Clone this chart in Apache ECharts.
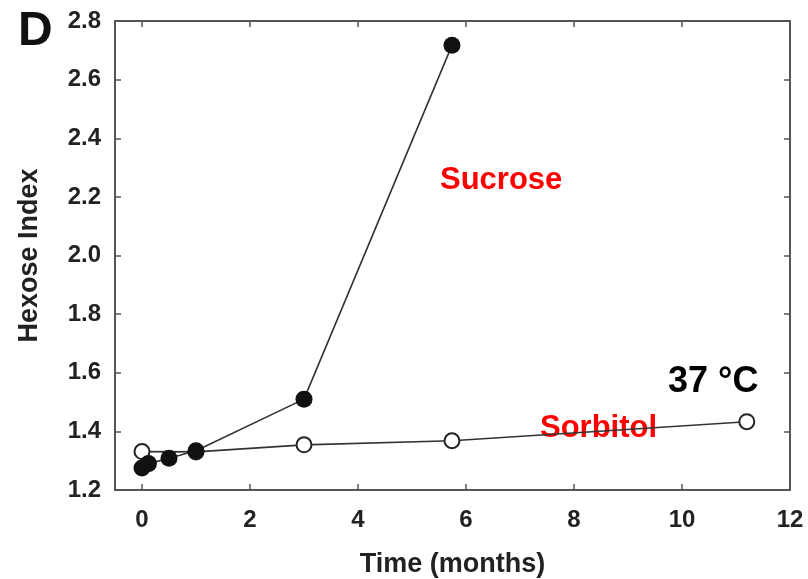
<!DOCTYPE html>
<html>
<head>
<meta charset="utf-8">
<script src="https://cdn.jsdelivr.net/npm/echarts@6/dist/echarts.min.js"></script>
<style>
  html, body { margin: 0; padding: 0; background: #fff; }
  #chart { width: 808px; height: 579px; }
</style>
</head>
<body>
<div id="chart"></div>
<script>
// months and hexose index
var sucroseX = [0, 0.12, 0.5, 1, 3, 5.74];
var sucroseY = [1.275, 1.29, 1.308, 1.334, 1.51, 2.717];
var sorbitolX = [0, 1, 3, 5.74, 11.2];
var sorbitolY = [1.331, 1.33, 1.354, 1.368, 1.433];
var monthTicks = [0, 2, 4, 6, 8, 10, 12];

var font = 'Liberation Sans, Arial, sans-serif';

function pairs(xs, ys) {
  return xs.map(function (x, i) { return [x, ys[i]]; });
}

var axisLine = { onZero: false, lineStyle: { color: '#555', width: 2 } };
var tick = { inside: true, length: 6, lineStyle: { color: '#555', width: 1.5 } };
var xTick = { inside: true, length: 6, customValues: monthTicks, lineStyle: { color: '#555', width: 1.5 } };

var chart = echarts.init(document.getElementById('chart'));
chart.setOption({
  animation: false,
  grid: { left: 115, right: 18, top: 21, bottom: 89, outerBoundsMode: 'none' },
  xAxis: [
    {
      type: 'value', min: -0.5, max: 12,
      axisLine: axisLine, axisTick: xTick, splitLine: { show: false },
      axisLabel: {
        margin: 18, fontSize: 24, fontWeight: 'bold', color: '#222', fontFamily: font,
        customValues: monthTicks
      },
      name: 'Time (months)', nameLocation: 'middle', nameGap: 61,
      nameTextStyle: { fontSize: 27, fontWeight: 'bold', color: '#222', fontFamily: font }
    },
    {
      type: 'value', position: 'top', min: -0.5, max: 12,
      axisLine: axisLine, axisTick: xTick, axisLabel: { show: false }, splitLine: { show: false }
    }
  ],
  yAxis: [
    {
      type: 'value', min: 1.2, max: 2.8, interval: 0.2,
      axisLine: axisLine, axisTick: tick, splitLine: { show: false },
      axisLabel: {
        margin: 14, fontSize: 24, fontWeight: 'bold', color: '#222', fontFamily: font,
        formatter: function (v) { return v.toFixed(1); }
      },
      name: 'Hexose Index', nameLocation: 'middle', nameGap: 72,
      nameTextStyle: { fontSize: 27, fontWeight: 'bold', color: '#222', fontFamily: font }
    },
    {
      type: 'value', position: 'right', min: 1.2, max: 2.8, interval: 0.2,
      axisLine: axisLine, axisTick: tick, axisLabel: { show: false }, splitLine: { show: false }
    }
  ],
  series: [
    {
      name: 'Sorbitol', type: 'line', data: pairs(sorbitolX, sorbitolY),
      symbol: 'circle', symbolSize: 15,
      lineStyle: { color: '#333', width: 1.6 },
      itemStyle: { color: '#fff', borderColor: '#222', borderWidth: 2 }
    },
    {
      name: 'Sucrose', type: 'line', data: pairs(sucroseX, sucroseY),
      symbol: 'circle', symbolSize: 17,
      lineStyle: { color: '#333', width: 1.6 },
      itemStyle: { color: '#111', borderColor: '#111', borderWidth: 0 }
    }
  ],
  graphic: [
    { type: 'text', left: 18, top: 8, style: { text: 'D', font: 'bold 48px ' + font, fill: '#111' } },
    { type: 'text', left: 440, top: 165, style: { text: 'Sucrose', font: 'bold 31px ' + font, fill: '#ff0000' } },
    { type: 'text', left: 540, top: 413, style: { text: 'Sorbitol', font: 'bold 31px ' + font, fill: '#ff0000' } },
    { type: 'text', left: 668, top: 364, style: { text: '37 °C', font: 'bold 36px ' + font, fill: '#000' } }
  ]
});
</script>
</body>
</html>
